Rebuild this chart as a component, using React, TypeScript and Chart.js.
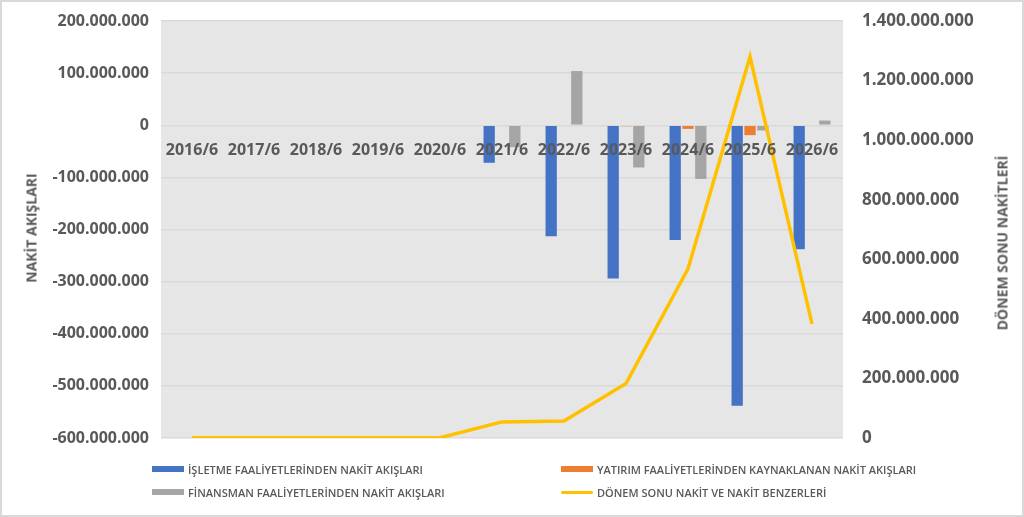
import React, { useEffect, useRef } from "react"
import { Chart, ChartConfiguration, registerables } from "chart.js"

Chart.register(...registerables)

const years = ["2016/6", "2017/6", "2018/6", "2019/6", "2020/6", "2021/6", "2022/6", "2023/6", "2024/6", "2025/6", "2026/6"]
const operating = [0, 0, 0, 0, 0, -72000000, -213000000, -294000000, -220000000, -538000000, -238000000]
const investing = [0, 0, 0, 0, 0, 0, 0, -2000000, -7000000, -19000000, 0]
const financing = [0, 0, 0, 0, 0, -42000000, 104000000, -81000000, -103000000, -10000000, 9000000]
const endCash = [1000000, 1000000, 1000000, 1000000, 1000000, 54000000, 57000000, 183000000, 568000000, 1280000000, 383000000]

const seriesNames = [
	"İŞLETME FAALİYETLERİNDEN NAKİT AKIŞLARI",
	"YATIRIM FAALİYETLERİNDEN KAYNAKLANAN NAKİT AKIŞLARI",
	"FİNANSMAN FAALİYETLERİNDEN NAKİT AKIŞLARI",
	"DÖNEM SONU NAKİT VE NAKİT BENZERLERİ",
]
const colors = ["#4472c4", "#ed7d31", "#a5a5a5", "#ffc000"]

const textColor = "#595959"
const font = "'Open Sans', sans-serif"

// 1.400.000.000 style
const fmt = (v: number) => {
	const s = Math.round(Math.abs(v)).toString().replace(/\B(?=(\d{3})+(?!\d))/g, ".")
	return v < 0 ? "-" + s : s
}

// fixed axis widths, no extra label padding, so the plot box sits where the reference has it
const fixWidth = (w: number) => (s: any) => {
	s.width = w
	s.paddingTop = 0
	s.paddingBottom = 0
}

const plotBg = {
	id: "plotBg",
	beforeDraw(chart: Chart) {
		const { ctx, chartArea } = chart
		ctx.save()
		ctx.fillStyle = "#e7e6e6"
		ctx.fillRect(chartArea.left, chartArea.top, chartArea.right - chartArea.left, chartArea.bottom - chartArea.top)
		ctx.restore()
	},
}

export default function App() {
	const chartRef = useRef<HTMLCanvasElement | null>(null)
	const chartInstance = useRef<Chart | null>(null)

	useEffect(() => {
		document.body.style.margin = "0"
		if (chartInstance.current) chartInstance.current.destroy()
		if (!chartRef.current) return
		const ctx = chartRef.current.getContext("2d")
		if (!ctx) return

		const config: ChartConfiguration = {
			type: "bar",
			data: {
				labels: years,
				datasets: [
					{ type: "bar", label: seriesNames[0], data: operating, backgroundColor: colors[0], yAxisID: "y", order: 1 },
					{ type: "bar", label: seriesNames[1], data: investing, backgroundColor: colors[1], yAxisID: "y", order: 1 },
					{ type: "bar", label: seriesNames[2], data: financing, backgroundColor: colors[2], yAxisID: "y", order: 1 },
					{
						type: "line",
						label: seriesNames[3],
						data: endCash,
						borderColor: colors[3],
						backgroundColor: colors[3],
						borderWidth: 3.5,
						pointRadius: 0,
						tension: 0,
						yAxisID: "y1",
						order: 0,
					},
				] as any,
			},
			options: {
				animation: false,
				responsive: false,
				maintainAspectRatio: false,
				datasets: { bar: { categoryPercentage: 0.62, barPercentage: 0.88 } },
				layout: { padding: { top: 21, bottom: 79, left: 0, right: 0 } },
				plugins: { legend: { display: false }, tooltip: { enabled: false } },
				scales: {
					x: {
						position: { y: 0 } as any,
						grid: { display: false, drawTicks: false },
						border: { display: false },
						// z: 1 -> labels drawn over the bars, like the reference
						ticks: { z: 1, color: textColor, font: { family: font, size: 16, weight: "bold" }, padding: 16, maxRotation: 0, autoSkip: false },
					},
					y: {
						position: "left",
						min: -600000000,
						max: 200000000,
						afterFit: fixWidth(161),
						grid: { color: "#d9d9d9", lineWidth: 1.5, drawTicks: false },
						border: { display: false },
						ticks: { stepSize: 100000000, color: textColor, padding: 12, font: { family: font, size: 16, weight: "bold" }, callback: (v: any) => fmt(Number(v)) },
					},
					y1: {
						position: "right",
						min: 0,
						max: 1400000000,
						afterFit: fixWidth(181),
						grid: { display: false, drawTicks: false },
						border: { display: false },
						ticks: { stepSize: 200000000, color: textColor, padding: 19, font: { family: font, size: 17, weight: "bold" }, callback: (v: any) => fmt(Number(v)) },
					},
				},
			},
			plugins: [plotBg],
		}

		chartInstance.current = new Chart(ctx, config)

		return () => {
			if (chartInstance.current) {
				chartInstance.current.destroy()
				chartInstance.current = null
			}
		}
	}, [])

	const legendItem = (i: number, left: number, top: number) => (
		<div key={i} style={{ position: "absolute", left, top, display: "flex", alignItems: "center", height: 14 }}>
			<div style={{ width: 32, height: i === 3 ? 3 : 6, background: colors[i], borderRadius: i === 3 ? 2 : 0 }} />
			<span style={{ marginLeft: 4, fontSize: 11, fontWeight: 600, color: textColor, fontFamily: font, whiteSpace: "nowrap" }}>{seriesNames[i]}</span>
		</div>
	)

	const titleStyle: React.CSSProperties = {
		position: "absolute",
		transform: "translate(-50%, -50%) rotate(-90deg)",
		whiteSpace: "nowrap",
		fontFamily: font,
		fontWeight: "bold",
		fontSize: 14,
		color: textColor,
	}

	return (
		<div style={{ position: "relative", width: 1024, height: 517, background: "#fff", overflow: "hidden" }}>
			<canvas ref={chartRef} width={1024} height={517} style={{ position: "absolute", left: 0, top: 0 }}></canvas>
			<div style={{ ...titleStyle, left: 31, top: 228 }}>NAKİT AKIŞLARI</div>
			<div style={{ ...titleStyle, left: 1002, top: 243 }}>DÖNEM SONU NAKİTLERİ</div>
			{legendItem(0, 152, 462)}
			{legendItem(1, 561, 462)}
			{legendItem(2, 152, 485)}
			{legendItem(3, 561, 485)}
			<div style={{ position: "absolute", left: 0, top: 0, width: 1024, height: 517, boxSizing: "border-box", border: "2px solid #d9d9d9", pointerEvents: "none" }} />
		</div>
	)
}
